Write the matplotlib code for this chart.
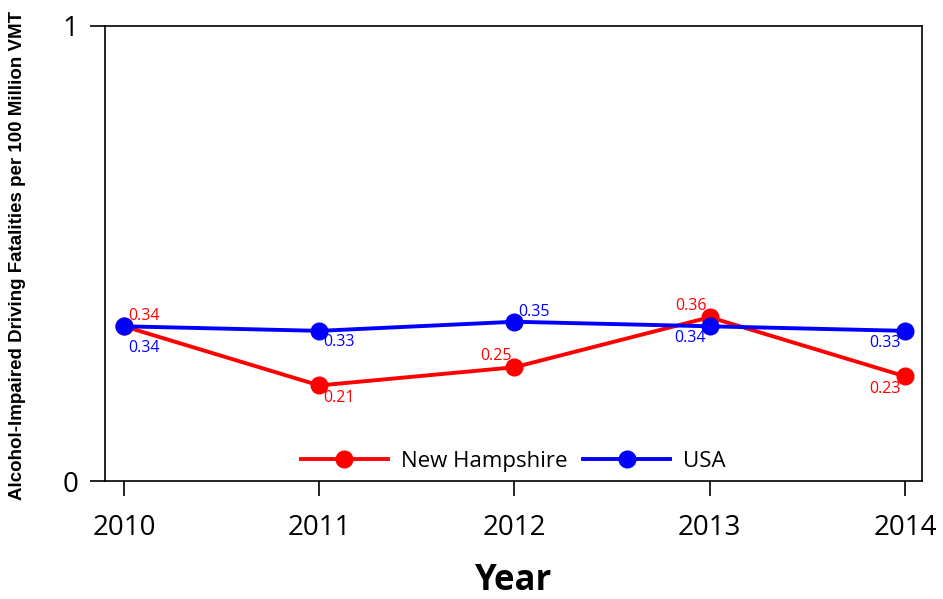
import matplotlib.pyplot as plt

years = [2010, 2011, 2012, 2013, 2014]
nh = [0.34, 0.21, 0.25, 0.36, 0.23]
usa = [0.34, 0.33, 0.35, 0.34, 0.33]

# label offsets (points) for each value label
nh_off = [(3, 2, 'left', 'bottom'), (3, -3, 'left', 'top'), (-2, 2, 'right', 'bottom'),
          (-2, 2, 'right', 'bottom'), (-3, -3, 'right', 'top')]
usa_off = [(3, -10, 'left', 'top'), (3, -2, 'left', 'top'), (3, 1, 'left', 'bottom'),
           (-3, -3, 'right', 'top'), (-3, -3, 'right', 'top')]

plt.rcParams['font.family'] = ['Open Sans', 'DejaVu Sans']

fig = plt.figure(figsize=(9.43, 5.99), dpi=100)
ax = fig.add_axes([105 / 943, 1 - 481 / 599, 817 / 943, 455 / 599])

ax.plot(years, nh, color='red', lw=2.8, marker='o', ms=12, label='New Hampshire')
ax.plot(years, usa, color='blue', lw=2.8, marker='o', ms=12, label='USA')

for x, y, o in zip(years, nh, nh_off):
    ax.annotate(f'{y:.2f}', (x, y), xytext=o[:2], textcoords='offset points',
                ha=o[2], va=o[3], color='red', fontsize=11.5)
for x, y, o in zip(years, usa, usa_off):
    ax.annotate(f'{y:.2f}', (x, y), xytext=o[:2], textcoords='offset points',
                ha=o[2], va=o[3], color='blue', fontsize=11.5)

ax.set_xlim(2009.903, 2014.087)
ax.set_ylim(0, 1)
ax.set_xticks(years)
ax.set_yticks([0, 1])
ax.set_yticklabels(['0', '1'])
ax.tick_params(axis='both', labelsize=20, length=11, width=1.2)
ax.tick_params(axis='x', pad=13)
ax.tick_params(axis='y', pad=8)
for s in ax.spines.values():
    s.set_linewidth(1.2)

ax.set_xlabel('Year', fontsize=25, fontweight='bold', labelpad=15)
fig.text(18 / 943, 0.574, 'Alcohol-Impaired Driving Fatalities per 100 Million VMT',
         rotation=90, ha='center', va='center', fontsize=13.5, fontweight='bold',
         family=['Liberation Sans', 'DejaVu Sans'])

ax.legend(loc='lower center', ncol=2, frameon=False, fontsize=16, handlelength=3.9,
          borderaxespad=0.0, columnspacing=0.7, handletextpad=0.6)

fig.savefig('out.png', dpi=100)
